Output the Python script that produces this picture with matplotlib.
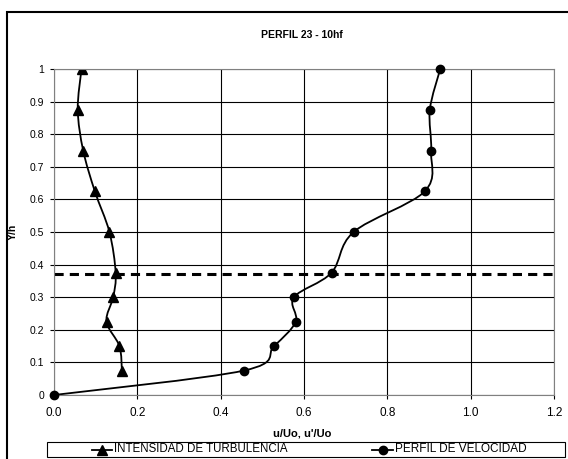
import numpy as np
import matplotlib.pyplot as plt
from matplotlib.path import Path
from matplotlib.patches import PathPatch, Rectangle
from matplotlib.lines import Line2D

plt.rcParams['font.family'] = ['Liberation Sans', 'DejaVu Sans']

# datos
y_turb = [1.0, 0.875, 0.75, 0.625, 0.5, 0.375, 0.3, 0.225, 0.15, 0.075]
u_turb = [0.066, 0.057, 0.070, 0.098, 0.133, 0.148, 0.142, 0.126, 0.157, 0.163]

y_vel = [1.0, 0.875, 0.75, 0.625, 0.5, 0.375, 0.3, 0.225, 0.15, 0.075, 0.0]
u_vel = [0.927, 0.902, 0.905, 0.890, 0.719, 0.666, 0.576, 0.580, 0.528, 0.456, 0.0]

y_ref = 0.37
x_ticks = [0.0, 0.2, 0.4, 0.6, 0.8, 1.0, 1.2]
y_ticks = [0, 0.1, 0.2, 0.3, 0.4, 0.5, 0.6, 0.7, 0.8, 0.9, 1]
y_ticklabels = ['0', '0.1', '0.2', '0.3', '0.4', '0.5', '0.6', '0.7', '0.8', '0.9', '1']


def linea_suave(x, y):
    # curva suavizada tipo Excel (Catmull-Rom -> Bezier)
    p = np.column_stack([x, y])
    p = np.vstack([p[0], p, p[-1]])
    verts = [p[1]]
    codes = [Path.MOVETO]
    for i in range(1, len(p) - 2):
        c1 = p[i] + (p[i + 1] - p[i - 1]) / 6.0
        c2 = p[i + 1] - (p[i + 2] - p[i]) / 6.0
        verts += [c1, c2, p[i + 1]]
        codes += [Path.CURVE4] * 3
    return Path(verts, codes)


fig = plt.figure(figsize=(5.68, 4.59), dpi=100)
W, H = 568.0, 459.0
ax = fig.add_axes([54 / W, 1 - 395 / H, 500 / W, 326 / H])

ax.add_patch(PathPatch(linea_suave(u_turb, y_turb), fill=False, color='black', lw=1.3))
ax.plot(u_turb, y_turb, linestyle='none', marker='^', color='black', markersize=7)
ax.add_patch(PathPatch(linea_suave(u_vel, y_vel), fill=False, color='black', lw=1.3))
ax.plot(u_vel, y_vel, linestyle='none', marker='o', color='black', markersize=6, clip_on=False, zorder=5)

ax.axhline(y_ref, color='black', lw=2.2, linestyle=(0, (3, 2)))

ax.set_xlim(0, 1.2)
ax.set_ylim(0, 1)
ax.set_xticks(x_ticks)
ax.set_xticklabels(['%.1f' % v for v in x_ticks])
ax.set_yticks(y_ticks)
ax.set_yticklabels(y_ticklabels)
ax.grid(True, color='black', lw=0.8)
ax.set_axisbelow(True)
ax.tick_params(axis='x', labelsize=8.5, length=3, width=0.8, direction='out', pad=6)
ax.tick_params(axis='y', labelsize=7.5, length=3, width=0.8, direction='out', pad=4)
for s in ['top', 'right', 'left', 'bottom']:
    ax.spines[s].set_color('#808080')

ax.set_xlabel("u/Uo, u'/Uo", fontsize=8, fontweight='bold')
ax.xaxis.set_label_coords(0.496, -33 / 326)
ax.set_ylabel('Y/h', fontsize=7.5, fontweight='bold')
ax.yaxis.set_label_coords(-36 / 500, 0.5)
fig.text(302 / W, 1 - 35 / H, 'PERFIL 23 - 10hf', fontsize=7.5, fontweight='bold',
         ha='center', va='center')

# marco exterior
fig.add_artist(Rectangle((7 / W, -0.05), 1.1, 1 - 12 / H + 0.05, transform=fig.transFigure,
                         fill=False, ec='black', lw=1.5))

# leyenda
fig.add_artist(Rectangle((47 / W, 1 - 457 / H), 518 / W, 15 / H, transform=fig.transFigure,
                         fill=False, ec='black', lw=0.8))
ly = 1 - 449.5 / H
fig.add_artist(Line2D([92 / W, 112 / W], [ly, ly], transform=fig.transFigure, color='black', lw=1.3))
fig.add_artist(Line2D([102 / W], [ly], transform=fig.transFigure, color='black',
                      marker='^', markersize=7))
fig.text(114 / W, ly, 'INTENSIDAD DE TURBULENCIA', fontsize=8.3, ha='left', va='center')
fig.add_artist(Line2D([372 / W, 393 / W], [ly, ly], transform=fig.transFigure, color='black', lw=1.3))
fig.add_artist(Line2D([382.5 / W], [ly], transform=fig.transFigure, color='black',
                      marker='o', markersize=6))
fig.text(395 / W, ly, 'PERFIL DE VELOCIDAD', fontsize=8.5, ha='left', va='center')

fig.savefig('out.png', dpi=100)
